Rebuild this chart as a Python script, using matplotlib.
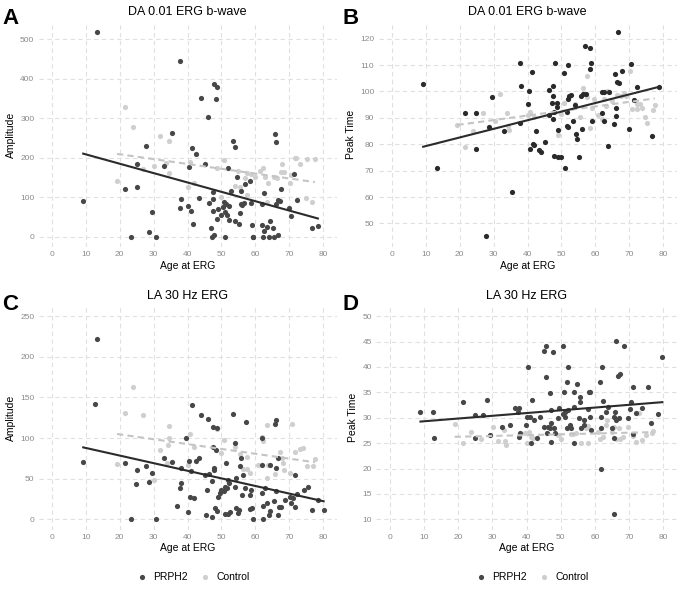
import numpy as np
import matplotlib
matplotlib.use("Agg")
import matplotlib.pyplot as plt

plt.rcParams['font.family'] = ['Liberation Sans', 'DejaVu Sans']

# (age, value) pairs
a_prph2 = [(9.2, 91), (13.2, 517), (21.5, 121), (25.0, 125), (25.1, 185), (23.3, 0), (27.6, 230),
           (28.6, 13), (29.5, 63), (30.8, 0), (33.1, 179), (35.5, 263), (37.7, 72), (37.9, 444),
           (38.2, 96), (40.0, 77), (40.4, 176), (41.1, 65), (41.4, 225), (42.4, 210), (41.7, 32),
           (43.3, 98), (43.9, 351), (45.2, 185), (46.1, 303), (46.4, 85), (47.0, 21), (47.2, 0),
           (47.4, 66), (47.5, 114), (47.7, 385), (47.6, 95), (47.9, 4), (48.4, 349), (48.7, 379),
           (48.7, 44), (49.1, 69), (49.9, 55), (50.5, 76), (50.9, 89), (51.1, 0), (51.2, 62),
           (51.5, 84), (51.8, 54), (52.0, 173), (52.3, 77), (52.3, 42), (52.9, 116), (53.4, 241),
           (54.1, 227), (54.0, 40), (54.5, 152), (55.1, 32), (55.6, 59), (55.8, 116), (55.9, 84),
           (56.2, 80), (56.9, 134), (56.7, 86), (58.6, 141), (58.7, 86), (59.0, 29), (59.2, 0),
           (59.4, 0), (62.0, 82), (62.0, 29), (62.2, 0), (62.6, 111), (62.5, 14), (63.5, 25),
           (64.0, 0), (64.3, 40), (65.3, 23), (65.6, 0), (65.8, 261), (66.2, 240), (66.2, 84),
           (66.7, 4), (66.8, 93), (67.2, 90), (67.7, 122), (69.9, 74), (70.6, 52), (71.5, 158),
           (72.3, 94), (76.8, 23), (78.5, 26)]
a_ctrl = [(19.2, 142), (21.6, 328), (23.9, 277), (31.9, 256), (34.4, 242), (30.1, 179), (27.0, 171),
          (34.6, 160), (33.6, 186), (40.7, 189), (40.2, 126), (41.9, 137), (50.8, 194), (48.8, 173),
          (50.0, 101), (54.9, 167), (56.9, 148), (57.5, 160), (53.9, 129), (55.5, 126), (57.7, 105),
          (58.7, 159), (60.0, 152), (61.4, 167), (62.3, 173), (62.8, 152), (63.8, 135), (63.6, 89),
          (65.6, 152), (66.5, 148), (67.9, 184), (67.5, 164), (68.5, 164), (70.3, 135), (70.6, 156),
          (71.6, 198), (72.1, 198), (73.1, 184), (75.2, 196), (77.6, 196), (74.9, 97), (76.9, 87)]

b_prph2 = [(9.2, 102.8), (13.2, 71.1), (21.5, 91.9), (24.9, 91.9), (24.9, 78.2), (29.5, 97.8),
           (28.7, 86.5), (27.6, 45.2), (33.1, 84.9), (35.5, 62.0), (37.8, 110.8), (38.2, 102.2),
           (37.9, 88.1), (40.2, 95.1), (40.5, 100.0), (40.6, 78.2), (41.3, 107.2), (41.6, 80.2),
           (41.9, 79.8), (42.6, 84.9), (43.3, 78.0), (44.0, 77.0), (45.2, 80.9), (46.4, 100.5),
           (46.4, 90.9), (47.1, 95.8), (47.4, 98.4), (47.5, 102.0), (47.5, 89.7), (47.7, 92.4),
           (47.9, 75.6), (48.0, 110.8), (48.6, 95.7), (48.7, 94.0), (48.9, 75.1), (49.1, 85.5),
           (49.8, 75.1), (50.8, 106.9), (51.0, 71.1), (51.6, 92.2), (51.7, 86.9), (52.1, 110.0),
           (52.1, 97.1), (52.3, 98.4), (52.1, 86.5), (52.9, 98.6), (53.3, 89.0), (54.1, 94.7),
           (54.4, 83.9), (54.5, 82.1), (55.2, 75.1), (55.9, 98.2), (56.0, 85.9), (56.5, 98.9),
           (56.9, 117.3), (57.3, 98.9), (58.6, 116.3), (58.7, 110.8), (58.6, 108.6), (59.0, 88.9),
           (62.0, 99.9), (62.5, 99.9), (62.6, 88.8), (62.1, 91.9), (63.7, 79.2), (64.1, 99.9),
           (65.5, 87.8), (65.8, 106.7), (66.2, 93.6), (66.2, 90.7), (66.4, 103.7), (66.8, 122.4),
           (67.1, 103.1), (67.8, 107.7), (70.0, 85.9), (70.7, 110.4), (71.5, 96.9), (72.3, 101.7),
           (76.9, 83.0), (78.7, 101.7)]
b_ctrl = [(19.3, 87.4), (21.6, 78.9), (23.9, 84.9), (27.0, 91.9), (30.3, 89.0), (31.9, 98.9),
          (33.8, 91.9), (34.3, 86.8), (34.6, 85.5), (40.7, 92.2), (40.1, 91.2), (41.9, 90.2),
          (50.8, 95.7), (49.0, 83.4), (49.8, 91.6), (53.9, 95.1), (55.4, 90.5), (56.5, 101.2),
          (57.7, 97.9), (57.5, 105.8), (58.5, 86.0), (58.9, 93.9), (59.6, 97.3), (60.8, 91.0),
          (62.1, 89.7), (62.6, 97.2), (63.6, 100.3), (64.1, 99.8), (63.3, 94.6), (64.9, 96.2),
          (66.3, 98.7), (67.5, 98.1), (68.5, 99.6), (69.1, 98.1), (70.3, 107.6), (70.9, 93.3),
          (72.3, 95.3), (73.2, 95.3), (73.8, 93.6), (74.6, 90.5), (75.4, 88.0), (77.0, 92.8),
          (77.6, 95.0), (72.2, 93.3)]

c_prph2 = [(9.2, 70.6), (13.2, 222.5), (12.6, 142), (21.5, 69.4), (25.1, 60.3), (24.9, 43.5),
           (23.3, 0), (27.6, 65.3), (28.6, 46.4), (29.5, 57.1), (30.8, 0), (33.1, 75.5), (35.5, 70.2),
           (36.9, 16), (37.7, 38.2), (38.0, 44.3), (38.2, 62.8), (39.5, 100.6), (40.0, 9.4),
           (40.4, 71.4), (40.7, 27.9), (41.1, 59.9), (41.4, 140.4), (41.8, 26.3), (42.6, 71.8),
           (43.3, 75.9), (44.1, 128.5), (45.2, 54.2), (45.4, 4.9), (45.8, 36.1), (46.1, 124),
           (46.4, 55.4), (47.1, 47.2), (47.1, 2.9), (47.5, 113.7), (47.5, 89.5), (47.7, 60.8),
           (47.7, 63.6), (48.0, 13.5), (48.5, 85.4), (48.7, 112), (48.8, 10.3), (49.1, 27.1),
           (49.5, 32), (50.0, 36.1), (50.7, 34.5), (51.0, 6.2), (51.2, 40.2), (51.5, 69),
           (51.8, 38.2), (52.0, 48), (52.3, 44.3), (52.1, 6.2), (52.5, 9), (53.4, 129.3),
           (54.0, 40.2), (54.1, 94.4), (54.2, 13.5), (54.4, 50.5), (54.9, 7.4), (55.2, 11.5),
           (55.6, 65.7), (55.9, 75.1), (56.2, 30), (56.4, 54.2), (56.9, 38.2), (57.2, 120.3),
           (58.4, 30), (58.6, 12.3), (58.7, 36.1), (59.0, 13.5), (59.4, 0), (61.9, 32.8),
           (62.0, 66.5), (62.1, 100.6), (62.2, 0), (62.4, 16), (62.8, 38.2), (63.6, 20.5),
           (64.1, 4.9), (64.3, 66.9), (64.3, 10.7), (65.5, 22.6), (65.8, 117.4), (66.2, 122.3),
           (66.2, 34.5), (66.2, 63.2), (66.6, 4.9), (66.8, 75.1), (67.1, 15.6), (67.7, 15.6),
           (68.9, 23.8), (70.2, 27.9), (70.6, 19.7), (71.2, 25.9), (71.6, 54.2), (71.6, 15.6),
           (72.3, 31.6), (74.3, 36.1), (75.6, 40.2), (76.8, 11.5), (78.5, 23.8), (80.2, 11.1)]
c_ctrl = [(23.9, 162.6), (21.6, 131.4), (26.9, 128.5), (34.4, 115.4), (34.6, 99.8), (34.3, 92),
          (31.9, 85.8), (19.2, 68.6), (33.8, 69.4), (30.2, 48.4), (40.7, 105), (40.2, 66.9),
          (41.9, 88.7), (50.8, 97.7), (48.8, 110.8), (49.8, 81.3), (53.9, 88.7), (55.4, 80.5),
          (57.5, 77.2), (56.5, 61.6), (58.5, 56.7), (57.7, 61.6), (60.8, 66.9), (62.0, 101.8),
          (62.3, 96.9), (63.6, 116.2), (63.8, 66.9), (63.6, 50.5), (65.7, 55.4), (67.2, 83.3),
          (67.9, 75.1), (68.5, 60.8), (68.3, 69), (70.3, 56.7), (71.0, 117.4), (71.7, 83.3),
          (73.2, 86.2), (74.2, 87.8), (75.2, 66.1), (77.0, 66.1), (77.6, 74.3)]

d_prph2 = [(9.0, 31.1), (12.6, 31.1), (13.0, 26.1), (21.3, 33.1), (28.5, 33.4), (24.8, 30.5),
           (27.3, 30.5), (24.9, 26.1), (29.3, 26.6), (32.9, 28.1), (35.3, 28.6), (36.7, 32),
           (37.7, 32), (37.4, 31.2), (38.0, 26.9), (37.7, 26.3), (39.9, 28.6), (40.4, 40),
           (40.1, 30.1), (41.5, 33.5), (41.1, 30.1), (42.3, 29.6), (43.1, 26.1), (41.4, 25),
           (43.9, 30.1), (45.2, 43.2), (45.7, 44.1), (47.8, 42.9), (50.7, 44.1), (45.6, 38.1),
           (46.9, 34.9), (47.1, 31.5), (47.3, 29), (45.2, 28.1), (46.2, 28.1), (46.9, 27.9),
           (45.9, 27), (48.1, 27.9), (47.3, 25.3), (48.3, 27), (49.3, 29.9), (49.6, 32), (52.0, 40),
           (51.8, 37.1), (51.0, 35.1), (51.2, 31.2), (50.7, 30.7), (51.4, 30.1), (52.0, 31.6),
           (52.7, 28.6), (53.9, 32.1), (53.9, 35.1), (54.9, 36.6), (55.6, 34), (55.6, 33.1),
           (53.9, 25), (51.7, 27.9), (53.1, 27.9), (55.3, 29.9), (55.8, 27.9), (56.8, 29.5),
           (56.8, 28.6), (58.2, 35.1), (58.5, 35.1), (58.0, 31.8), (58.7, 30.1), (58.9, 27.6),
           (61.6, 37.1), (62.1, 40), (61.8, 30.2), (61.8, 27.9), (61.8, 20), (62.5, 33.2),
           (63.8, 32.2), (63.3, 31.2), (64.9, 27.9), (65.5, 30.2), (65.9, 31.2), (66.2, 45.1),
           (68.6, 44.1), (66.7, 38.2), (67.4, 38.6), (66.2, 29.5), (65.7, 26.1), (65.5, 11),
           (67.0, 29.9), (69.8, 29.9), (70.5, 33.1), (70.3, 31.8), (71.2, 36), (73.9, 32),
           (75.4, 36), (72.0, 31), (76.3, 29), (78.3, 30.7), (79.7, 42), (71.0, 26.8)]
d_ctrl = [(19.0, 28.7), (21.5, 25.1), (23.7, 27.2), (26.6, 25.9), (30.2, 28.1), (31.6, 25.4),
          (33.8, 25.5), (34.1, 24.6), (33.5, 27.6), (40.1, 25.1), (39.6, 26.9), (41.4, 26.3),
          (40.6, 27.2), (42.0, 26.1), (49.3, 26.6), (50.0, 25.9), (53.1, 26.8), (53.6, 26.8),
          (54.6, 27), (56.0, 25), (58.0, 25), (58.0, 28.4), (57.5, 28), (60.9, 27.2), (61.6, 25.9),
          (62.3, 26.2), (63.3, 28.6), (63.6, 29.5), (65.0, 27.2), (65.7, 28.2), (67.1, 27.9),
          (67.4, 25.9), (68.1, 26.2), (66.2, 25.9), (69.8, 28.2), (71.0, 26.4), (72.0, 25.3),
          (73.0, 30.9), (73.9, 25.6), (74.9, 26.6), (76.8, 27), (77.1, 27.4)]

x_ticks = [0, 10, 20, 30, 40, 50, 60, 70, 80]

DARK = '#474747'
LIGHT = '#cfcfcf'
W, H = 683, 592

fig = plt.figure(figsize=(W / 100, H / 100), dpi=100)


def add_ax(left, top, right, bottom):
    return fig.add_axes([left / W, 1 - bottom / H, (right - left) / W, (bottom - top) / H])


def fit_line(ax, pts, color, ls):
    x, y = np.array(pts).T
    k, b = np.polyfit(x, y, 1)
    xs = np.array([x.min(), x.max()])
    ax.plot(xs, k * xs + b, color=color, ls=ls, lw=1.5, zorder=4,
            dashes=(3, 2) if ls == '--' else (None, None))


def panel(ax, prph2, ctrl, title, ylabel, ylim, yticks, dark=DARK, legend=False):
    px, py = np.array(prph2).T
    cx, cy = np.array(ctrl).T
    ax.scatter(px, py, s=14, color=dark, lw=0, zorder=3, label='PRPH2')
    ax.scatter(cx, cy, s=14, color=LIGHT, lw=0, zorder=2, label='Control')
    fit_line(ax, ctrl, '#c4c4c4', '--')
    fit_line(ax, prph2, '#2b2b2b', '-')
    ax.set_xlim(-4, 84)
    ax.set_ylim(*ylim)
    ax.set_xticks(x_ticks)
    ax.set_yticks(yticks)
    ax.grid(True, color='#e0e0e0', ls=(0, (4, 3)), lw=0.8)
    ax.set_axisbelow(True)
    for s in ax.spines.values():
        s.set_visible(False)
    ax.tick_params(length=0, labelsize=6, labelcolor='#8a8a8a', pad=3)
    ax.set_xlabel('Age at ERG', fontsize=7.5, labelpad=2)
    ax.set_ylabel(ylabel, fontsize=7.5, labelpad=3)
    ax.set_title(title, fontsize=9, pad=5)
    if legend:
        ax.legend(loc='upper center', bbox_to_anchor=(0.51, -0.17), ncol=2, frameon=False,
                  fontsize=7.5, handletextpad=0.1, columnspacing=0.6, markerscale=1.0,
                  borderaxespad=0)


ax_a = add_ax(38.5, 22, 336.5, 247)
ax_b = add_ax(378.5, 22, 676.5, 247)
ax_c = add_ax(38.5, 306, 336.5, 529.5)
ax_d = add_ax(376, 306, 677, 529.5)

panel(ax_a, a_prph2, a_ctrl, 'DA 0.01 ERG b-wave', 'Amplitude', (-25.85, 543),
      [0, 100, 200, 300, 400, 500])
panel(ax_b, b_prph2, b_ctrl, 'DA 0.01 ERG b-wave', 'Peak Time', (41.1, 126.3),
      [50, 60, 70, 80, 90, 100, 110, 120], dark='#2a2a2a')
panel(ax_c, c_prph2, c_ctrl, 'LA 30 Hz ERG', 'Amplitude', (-12.5, 262.5),
      [0, 50, 100, 150, 200, 250], legend=True)
panel(ax_d, d_prph2, d_ctrl, 'LA 30 Hz ERG', 'Peak Time', (8, 52),
      [10, 15, 20, 25, 30, 35, 40, 45, 50], legend=True)

# panel letters, positioned in figure pixels
for letter, lx, ly in [('A', 2, 18), ('B', 342, 18), ('C', 2, 304), ('D', 342, 305)]:
    fig.text(lx / W, 1 - ly / H, letter, fontsize=16, fontweight='bold',
             ha='left', va='center')

fig.savefig('out.png', dpi=100)
